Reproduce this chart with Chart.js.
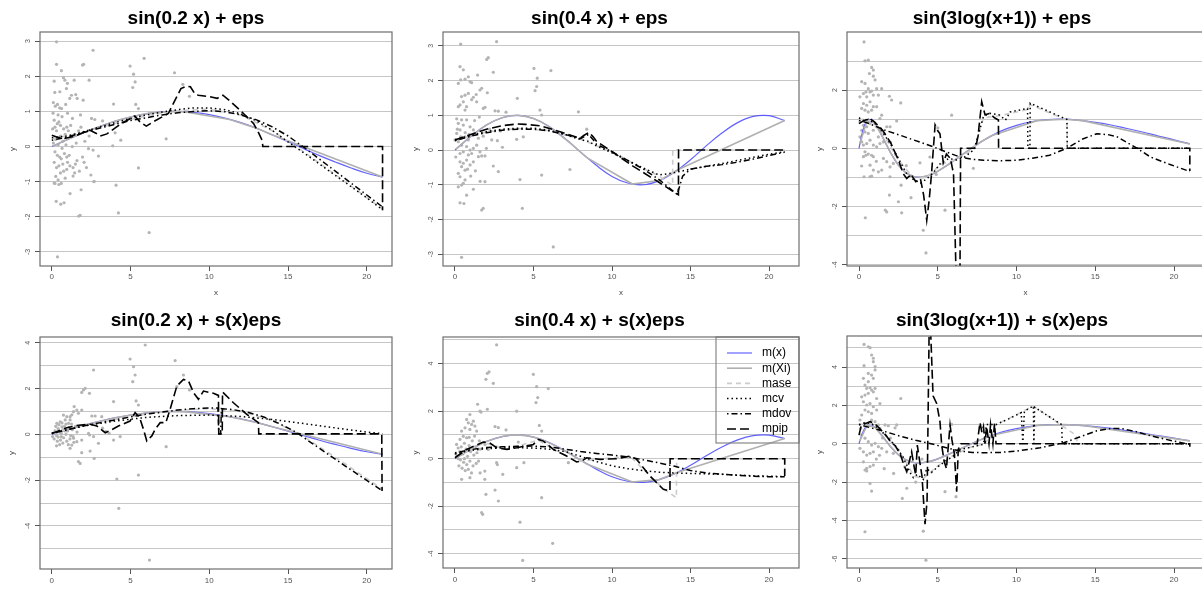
<!DOCTYPE html>
<html>
<head>
<meta charset="utf-8">
<script src="https://cdn.jsdelivr.net/npm/chart.js@4/dist/chart.umd.min.js"></script>
<style>
html, body { margin: 0; padding: 0; overflow: hidden; background: #fff; }
body { width: 1202px; height: 596px; position: relative; }
canvas { position: absolute; }
</style>
</head>
<body>
<canvas id="c1" width="432" height="297" style="left:0;top:0"></canvas>
<canvas id="c2" width="442" height="297" style="left:400px;top:0"></canvas>
<canvas id="c3" width="451" height="297" style="left:800px;top:0"></canvas>
<canvas id="c4" width="432" height="306" style="left:0;top:296px"></canvas>
<canvas id="c5" width="442" height="306" style="left:400px;top:296px"></canvas>
<canvas id="c6" width="451" height="306" style="left:800px;top:296px"></canvas>
<script>
// ---- data ----
const titles = ['sin(0.2 x) + eps', 'sin(0.4 x) + eps', 'sin(3log(x+1)) + eps',
                'sin(0.2 x) + s(x)eps', 'sin(0.4 x) + s(x)eps', 'sin(3log(x+1)) + s(x)eps'];
const seriesNames = ['m(x)', 'm(Xi)', 'mase', 'mcv', 'mdov', 'mpip'];
const xTicks = [0, 5, 10, 15, 20];

const yGrid1 = [-3, -2, -1, 0, 1, 2, 3],        yLabels1 = [-3, -2, -1, 0, 1, 2, 3];
const yGrid2 = [-3, -2, -1, 0, 1, 2, 3],        yLabels2 = [-3, -2, -1, 0, 1, 2, 3];
const yGrid3 = [-4, -3, -2, -1, 0, 1, 2, 3],    yLabels3 = [-4, -2, 0, 2];
const yGrid4 = [-5, -4, -3, -2, -1, 0, 1, 2, 3, 4], yLabels4 = [-4, -2, 0, 2, 4];
const yGrid5 = [-4, -3, -2, -1, 0, 1, 2, 3, 4, 5], yLabels5 = [-4, -2, 0, 2, 4];
const yGrid6 = [-6, -5, -4, -3, -2, -1, 0, 1, 2, 3, 4, 5], yLabels6 = [-6, -4, -2, 0, 2, 4];

// true curves m(x)
const mxA = [[0,0],[1,0.2],[2,0.39],[3,0.56],[4,0.72],[5,0.84],[6,0.93],[7,0.99],[8,1.0],[9,0.97],[10,0.91],[11,0.81],[12,0.68],[13,0.52],[14,0.33],[15,0.14],[16,-0.06],[17,-0.26],[18,-0.44],[19,-0.61],[20,-0.76],[21,-0.87]];
const mxB = [[0,0],[1,0.39],[2,0.72],[3,0.93],[4,1.0],[5,0.91],[6,0.68],[7,0.33],[8,-0.06],[9,-0.44],[10,-0.76],[11,-0.95],[12,-1.0],[13,-0.88],[14,-0.63],[15,-0.28],[16,0.12],[17,0.49],[18,0.79],[19,0.97],[20,0.99],[21,0.85]];
const mxC = [[0,0],[0.25,0.62],[0.5,0.94],[0.75,0.99],[1,0.87],[1.5,0.38],[2,-0.15],[2.5,-0.58],[3,-0.85],[3.5,-0.98],[4,-0.99],[4.5,-0.92],[5,-0.79],[6,-0.43],[7,-0.05],[8,0.3],[9,0.59],[10,0.79],[11,0.92],[12,0.99],[13,1.0],[14,0.96],[15,0.89],[16,0.8],[17,0.68],[18,0.56],[19,0.42],[20,0.29],[21,0.15]];

// m(Xi) at the sample points
const mxiA = [[0.05,0.01],[0.5,0.1],[1,0.2],[1.5,0.3],[2,0.39],[2.5,0.48],[3,0.56],[3.5,0.64],[4,0.72],[4.5,0.78],[5,0.84],[5.5,0.89],[6.2,0.95],[7.3,0.99],[7.8,1.0],[8.4,0.99],[11.3,0.77],[13,0.52],[14.2,0.3],[21,-0.87]];
const mxiB = [[0.05,0.02],[0.5,0.2],[1,0.39],[1.5,0.56],[2,0.72],[2.5,0.84],[3,0.93],[3.5,0.99],[4,1.0],[4.5,0.97],[5,0.91],[5.5,0.81],[6.2,0.61],[7.3,0.22],[7.8,0.02],[8.4,-0.22],[11.3,-0.98],[13,-0.88],[14.2,-0.57],[21,0.85]];
const mxiC = [[0.05,0.15],[0.5,0.94],[1,0.87],[1.5,0.38],[2,-0.15],[2.5,-0.58],[3,-0.85],[3.5,-0.98],[4,-0.99],[4.5,-0.92],[5,-0.79],[5.5,-0.62],[6.2,-0.36],[7.3,0.06],[7.8,0.24],[8.4,0.43],[11.3,0.95],[13,1.0],[14.2,0.95],[21,0.15]];

// panel 1
const pts1 = [[0.3,2.98],[2.62,2.74],[0.3,2.34],[1.95,2.32],[2.02,2.34],[0.61,2.16],[0.74,1.96],[0.83,1.89],[0.15,1.86],[0.99,1.8],[1.42,1.89],[2.37,1.89],[0.51,1.56],[0.19,1.54],[0.93,1.65],[1.25,1.46],[1.52,1.48],[1.61,1.37],[1.99,1.32],[1.14,1.37],[4.97,2.29],[5.19,2.06],[5.29,1.84],[5.14,1.68],[5.86,2.51],[7.79,2.1],[8.32,1.77],[8.74,1.43],[3.92,1.21],[5.33,1.2],[5.5,1.08],[3.22,0.73],[4.02,0.39],[4.38,0.18],[3.87,0.02],[2.33,-0.06],[2.96,-0.27],[2.69,-0.99],[2.48,-0.81],[4.08,-1.1],[5.5,-0.61],[7.26,0.22],[1.86,-1.23],[1.71,-1.98],[1.8,-1.96],[4.23,-1.89],[6.18,-2.45],[0.36,-3.14],[0.28,-1.56],[0.57,-1.64],[0.78,-1.6],[1.16,-1.34],[0.15,-1.04],[1.82,0.9],[1.31,0.8],[2.52,0.8],[2.73,0.77],[2.37,0.3],[2.62,-0.1],[1.35,-0.84],[2.67,-1.0],
  [0.1,1.25],[0.22,1.15],[0.5,1.1],[0.36,1.2],[0.62,1.08],[0.08,0.95],[0.15,0.75],[0.4,0.9],[0.2,0.55],[0.05,0.5],[0.3,0.45],[0.45,0.7],[0.55,0.6],[0.55,0.3],[0.25,0.2],[0.1,0.1],[0.4,0.05],[0.7,0.15],[0.85,0.35],[0.95,0.55],[1.05,0.45],[1.2,0.6],[1.25,0.3],[1.45,0.35],[1.55,0.1],[0.75,0.5],[0.65,-0.05],[0.2,-0.15],[0.35,-0.25],[0.5,-0.3],[0.15,-0.45],[0.6,-0.35],[0.8,-0.2],[0.95,-0.3],[1.1,-0.25],[1.0,-0.45],[0.7,-0.5],[0.45,-0.55],[0.3,-0.6],[0.55,-0.75],[0.75,-0.7],[0.95,-0.65],[1.15,-0.55],[1.35,-0.6],[1.5,-0.5],[1.6,-0.4],[0.25,-0.85],[0.4,-0.95],[0.6,-1.05],[0.2,-1.05],[0.45,-1.08],[0.85,-0.9],[1.45,-0.75],[1.75,-0.7],[0.9,0.05],[1.3,0.0],[1.7,0.45],[1.85,0.55],[2.1,0.15],[2.05,-0.45],[2.2,-0.6],[1.95,-0.3],[0.35,0.65],[0.65,0.85],[1.0,0.95],[0.88,1.2]];
const mase1 = [[0,0.22],[2,0.4],[4,0.66],[6,0.88],[8,1.02],[10,1.06],[12,0.9],[14,0.45],[16,-0.15],[18,-0.8],[21,-1.78]];
const mcv1 = [[0,0.25],[1,0.3],[2,0.42],[3,0.55],[4,0.68],[5,0.8],[6,0.9],[7,0.98],[8,1.05],[9,1.1],[10,1.1],[11,1.05],[12,0.93],[13,0.73],[14,0.46],[15,0.13],[16,-0.18],[17,-0.5],[18,-0.82],[19,-1.14],[20,-1.46],[21,-1.8]];
const mdov1 = [[0,0.18],[1,0.27],[2,0.4],[3,0.52],[4,0.63],[5,0.74],[6,0.82],[7,0.9],[8,0.96],[9,1.0],[10,1.02],[11,0.99],[12,0.9],[13,0.76],[14,0.56],[15,0.3],[16,-0.02],[17,-0.36],[18,-0.7],[19,-1.04],[20,-1.38],[21,-1.72]];
const mpip1 = [[0,0.32],[0.4,0.26],[0.8,0.23],[1.5,0.3],[2.4,0.47],[2.8,0.38],[3.06,0.3],[3.5,0.36],[4.3,0.62],[5.27,0.87],[5.6,0.7],[6.0,0.58],[6.5,0.72],[7.4,0.94],[7.8,1.3],[8.2,1.65],[8.55,1.72],[8.8,1.7],[9.08,1.5],[9.3,1.46],[10.0,1.42],[10.5,1.37],[10.86,1.46],[11.3,1.3],[11.96,1.03],[12.8,0.66],[13.1,0.42],[13.35,0.18],[13.4,0],[21,0],[21,-1.81]];

// panel 2
const pts2 = [[0.36,3.05],[2.65,3.12],[2.02,2.61],[2.12,2.66],[0.32,2.4],[0.53,2.31],[0.36,2.02],[0.21,1.92],[0.85,2.11],[0.96,1.97],[1.06,1.94],[0.64,2.04],[1.44,2.16],[2.44,2.24],[1.7,1.78],[1.59,1.73],[1.35,1.6],[1.17,1.52],[1.06,1.45],[1.38,1.39],[0.85,1.63],[0.64,1.58],[0.42,1.54],[0.53,1.39],[0.32,1.3],[0.21,1.25],[0.74,1.25],[0.64,1.15],[1.8,1.2],[1.91,1.23],[2.06,1.65],[2.55,1.13],[2.76,1.12],[3.25,1.09],[3.97,1.49],[5.03,2.35],[5.24,2.07],[5.2,1.83],[5.1,1.71],[6.11,2.29],[5.41,1.15],[5.52,1.01],[7.86,1.1],[8.39,0.6],
  [0.11,0.9],[0.21,0.77],[0.32,0.58],[0.42,0.87],[0.53,0.72],[0.74,0.87],[0.96,0.67],[0.11,0.48],[0.36,0.38],[0.0,0.29],[0.21,0.24],[0.64,0.38],[0.85,0.29],[1.17,0.58],[1.38,0.48],[1.49,0.34],[2.34,0.29],[2.7,0.27],[3.02,0.08],[3.93,0.31],[4.35,0.38],
  [0.42,0.14],[0.74,0.1],[0.96,0.0],[1.17,0.05],[1.38,0.14],[0.53,-0.05],[0.32,-0.1],[0.85,-0.14],[1.06,-0.1],[1.59,-0.05],[1.49,-0.19],[1.7,-0.17],[1.91,-0.17],[0.32,-0.34],[0.53,-0.38],[0.74,-0.29],[0.42,-0.48],[0.96,-0.43],[1.17,-0.34],[0.64,-0.58],[0.21,-0.67],[0.32,-0.77],
  [2.44,-0.46],[2.76,-0.62],[5.52,-0.72],[4.14,-0.85],[7.32,-0.56],[0.53,-0.96],[0.42,-1.01],[0.21,-1.06],[0.64,-0.86],[1.91,-0.91],[1.17,-1.13],[0.74,-1.3],[0.32,-1.52],[0.57,-1.54],[1.7,-1.73],[1.8,-1.68],[4.29,-1.68],[6.26,-2.79],[0.42,-3.09],
  [0.15,0.6],[0.65,0.5],[0.9,0.45],[1.25,0.85],[1.55,0.95],[0.05,-0.2],[1.3,-0.6],[1.6,-0.9],[1.0,-0.75],[0.8,-0.55],[2.2,0.6],[2.9,0.55],[1.8,0.4],[2.0,0.05]];
const mase2 = [[0,0.28],[2,0.52],[4,0.62],[6,0.56],[8,0.31],[10,-0.06],[12,-0.53],[13,-0.75],[13.86,-1.02],[13.87,0],[21,0]];
const mcv2 = [[0,0.3],[1,0.42],[2,0.53],[3,0.6],[4,0.63],[5,0.63],[6,0.57],[7,0.45],[8,0.3],[8.5,0.25],[9,0.12],[10,-0.08],[11,-0.3],[12,-0.52],[13,-0.72],[14,-0.65],[15,-0.55],[16,-0.47],[17,-0.39],[18,-0.3],[19,-0.21],[20,-0.12],[21,-0.05]];
const mdov2 = [[0,0.27],[1,0.4],[2,0.5],[3,0.57],[4,0.6],[5,0.6],[6,0.55],[7,0.45],[8,0.33],[8.5,0.45],[8.8,0.3],[9,0.17],[10,-0.05],[11,-0.3],[12,-0.55],[13,-0.85],[14.15,-1.28],[14.5,-0.75],[15,-0.55],[16,-0.47],[17,-0.42],[18,-0.35],[19,-0.26],[20,-0.16],[21,-0.06]];
const mpip2 = [[0,0.29],[1,0.45],[2,0.6],[3,0.7],[3.93,0.75],[4.5,0.74],[5.41,0.7],[6.69,0.53],[7.96,0.34],[8.2,0.42],[8.54,0.51],[8.8,0.38],[9.02,0.25],[10.08,-0.07],[11.36,-0.47],[13.06,-0.95],[14.23,-1.29],[14.24,0],[21,0]];

// panel 3
const pts3 = [[0.32,3.66],[0.38,3.01],[0.59,3.03],[0.8,2.78],[0.91,2.69],[0.66,2.57],[0.91,2.48],[1.02,2.35],[0.17,2.29],[0.38,2.23],[0.59,2.05],[0.7,1.94],[0.44,1.94],[0.8,1.97],[1.12,2.05],[1.44,2.05],[0.28,1.88],[0.06,1.77],[0.49,1.77],[0.91,1.83],[1.23,1.83],[1.93,1.79],[2.07,1.66],[2.65,1.56],[0.28,1.54],[0.49,1.48],[0.7,1.6],[0.91,1.43],[0.38,1.31],[0.59,1.25],[0.8,1.31],[0.17,1.37],[1.12,1.43],[1.44,1.14],[1.33,1.02],[2.39,0.94],[1.76,0.74],[1.97,0.74],
  [0.06,0.91],[0.28,0.79],[0.49,0.74],[0.7,0.85],[0.17,0.62],[0.38,0.56],[0.59,0.51],[0.91,0.62],[1.12,0.74],[1.33,0.68],[0.06,0.39],[0.17,0.22],[0.28,0.11],[0.49,0.16],[0.7,0.28],[0.91,0.11],[1.12,0.05],[1.33,0.16],[1.55,0.22],[1.23,0.39],[0.38,-0.12],[0.44,-0.24],[0.59,-0.2],[0.8,-0.24],[0.91,-0.29],[0.28,-0.29],
  [5.88,1.14],[1.55,-0.35],[1.76,-0.46],[1.97,-0.64],[2.18,-0.52],[0.17,-0.61],[0.7,-0.58],[0.91,-0.75],[1.23,-0.81],[1.44,-0.75],[0.32,-0.98],[0.7,-0.98],[0.8,-0.96],[1.97,-0.98],[3.87,-0.5],[2.67,-1.27],[1.93,-1.61],[1.67,-2.13],[1.76,-2.19],[2.71,-2.22],[2.5,-1.84],[0.4,-2.39],[4.08,-2.82],[4.25,-3.6],[5.46,-2.13],[7.26,-0.69],[3.3,-1.7],[4.9,-0.9],[2.3,-0.2],[3.0,-0.6],[4.5,-0.3],[5.0,0.7],[1.6,0.5],[2.0,0.2],[1.1,-0.45]];
const mase3 = [[0,1.0],[0.6,0.98],[1.5,0.52],[2.5,-0.4],[3.5,-1.05],[4.3,-1.0],[5.2,-0.55],[6.2,-0.38],[7.3,-0.02],[7.9,1.05],[8.9,1.12],[9.6,1.2],[10.7,1.33],[10.87,1.5],[13.2,0.97],[13.22,0],[21,0]];
const mcv3 = [[0,1.05],[0.3,0.95],[0.6,1.0],[1.0,0.85],[1.5,0.55],[2.0,0.15],[2.5,-0.35],[3.0,-0.85],[3.4,-1.05],[3.9,-1.2],[4.3,-1.05],[4.7,-0.85],[5.2,-0.5],[5.7,-0.35],[6.2,-0.4],[6.7,-0.3],[7.3,-0.05],[7.6,0.5],[7.9,1.1],[8.3,1.2],[8.9,1.15],[9.3,0.97],[9.6,1.25],[10.7,1.37],[10.72,0],[10.85,0],[10.87,1.55],[13.2,0.99],[13.22,0],[21,0]];
const mdov3 = [[0,0.96],[0.5,0.88],[1,0.77],[1.55,0.64],[2.6,0.45],[3.5,0.28],[4.72,0.05],[5.5,-0.12],[6.41,-0.3],[7.2,-0.38],[7.9,-0.41],[9,-0.43],[10,-0.41],[11,-0.34],[12.1,-0.24],[13.2,0.0],[14.2,0.32],[15.1,0.5],[15.8,0.47],[16.4,0.39],[17.5,0.05],[18.5,-0.3],[19.7,-0.55],[21,-0.8]];
const mpip3 = [[0,0.85],[0.3,0.95],[0.7,1.02],[1.0,0.9],[1.5,0.62],[2.0,0.2],[2.5,-0.4],[2.8,-0.87],[3.03,-1.04],[3.3,-0.9],[3.6,-1.15],[3.9,-1.05],[4.1,-1.6],[4.3,-2.48],[4.45,-1.8],[4.6,-0.9],[4.83,0.8],[5.0,0.6],[5.14,0.5],[5.35,-0.5],[5.55,-0.2],[5.8,-0.35],[6.0,-0.87],[6.16,-4.3],[6.41,-4.3],[6.45,0],[7.4,0],[7.55,0.4],[7.79,1.6],[8.0,1.15],[8.3,1.2],[8.6,1.05],[8.85,0.97],[8.86,0],[21,0],[21,-0.78]];

// panel 4
const pts4 = [[5.93,3.9],[4.97,3.29],[5.19,2.95],[5.29,2.59],[5.14,2.3],[7.83,3.22],[2.65,2.81],[2.01,1.94],[2.12,2.01],[1.9,1.83],[2.39,1.79],[3.92,1.43],[5.35,1.46],[5.5,1.28],[8.36,2.59],[8.74,1.94],[7.94,2.08],[1.42,1.21],[1.59,1.06],[1.69,0.92],[1.38,0.99],[1.9,1.06],[1.27,0.85],[1.16,0.77],[2.54,0.8],[2.75,0.8],[3.17,0.77],[0.74,0.84],[0.95,0.77],[0.85,0.63],[0.53,0.55],[0.32,0.48],[1.16,0.63],[1.06,0.48],[0.64,0.33],
  [0.1,0.05],[0.2,0.15],[0.3,-0.05],[0.4,0.25],[0.5,0.1],[0.6,-0.1],[0.7,0.2],[0.8,0.35],[0.9,0.0],[1.0,0.15],[1.1,0.3],[1.2,-0.05],[0.15,-0.2],[0.35,-0.3],[0.55,-0.25],[0.75,-0.15],[0.95,-0.3],[1.15,-0.2],[1.35,-0.1],[0.25,0.35],[0.45,0.42],[0.65,0.5],[0.85,0.15],[1.05,-0.45],[0.5,-0.45],[0.3,-0.5],[0.7,-0.38],[1.3,0.2],[1.5,0.35],[1.6,0.1],[0.05,-0.1],[0.2,0.05],[0.6,0.05],[0.4,-0.12],[0.9,0.45],[1.4,-0.35],[1.25,0.45],
  [3.22,0.27],[3.43,0.12],[3.64,0.04],[3.92,-0.25],[4.34,-0.1],[2.65,-0.1],[2.96,-0.39],[2.33,0.04],[2.4,-0.03],[1.38,-0.17],[1.59,-0.32],[1.27,-0.47],[1.9,-0.25],[1.16,-0.61],[1.9,-0.8],[2.43,-0.73],[2.69,-1.05],[1.69,-1.19],[1.8,-1.27],[7.26,-0.54],[4.13,-1.95],[5.5,-1.78],[4.25,-3.23],[6.2,-5.49]];
const mase4 = [[0,0.05],[2,0.38],[4,0.65],[6,0.88],[8,1.05],[10,1.12],[12,1.0],[14,0.6],[16,-0.1],[18,-1.0],[21,-2.4]];
const mcv4 = [[0,0.05],[2,0.36],[4,0.58],[6,0.74],[8,0.82],[10,0.84],[12,0.78],[14,0.65],[16,0.47],[18,0.28],[20,0.1],[21,0.03]];
const mdov4 = [[0,0.05],[1,0.2],[2,0.36],[3,0.5],[4,0.63],[5,0.76],[6,0.88],[7,0.97],[8,1.06],[9,1.12],[10,1.15],[10.55,1.15],[10.6,0.03],[10.72,0.03],[10.77,1.12],[11.5,1.08],[12.5,0.95],[13.5,0.75],[14.5,0.45],[15.5,0.1],[16.5,-0.38],[17.5,-0.85],[18.5,-1.32],[19.5,-1.78],[21,-2.47]];
const mpip4 = [[0,0.04],[0.95,0.29],[1.7,0.4],[2.43,0.44],[2.86,0.36],[3.39,0.07],[3.8,0.2],[4.23,0.36],[4.97,0.58],[5.29,0.95],[5.57,0.73],[5.82,0.22],[6.03,-0.29],[6.35,-0.07],[6.56,0.22],[6.88,0.51],[7.24,0.51],[7.51,1.09],[7.94,2.11],[8.36,2.4],[8.68,2.33],[9.0,1.82],[9.31,1.53],[9.63,1.89],[10.26,1.79],[10.58,1.7],[10.6,0.02],[10.82,0.02],[10.84,1.85],[11.53,1.38],[12.38,0.87],[13.12,0.51],[13.14,0.02],[20.95,0.02],[20.97,-2.47]];

// panel 5
const pts5 = [[2.65,4.79],[4.99,3.55],[2.06,3.59],[2.17,3.65],[1.97,3.34],[2.44,3.17],[5.2,3.03],[5.94,2.95],[5.27,2.57],[5.16,2.36],[1.44,2.29],[1.59,2.0],[1.66,1.96],[2.06,2.08],[3.93,2.0],[3.25,1.21],[5.37,1.4],[5.52,1.16],[2.55,1.35],[2.76,1.31],
  [0.95,1.86],[1.17,1.58],[0.85,1.51],[1.06,1.44],[1.27,1.37],[0.74,1.65],[0.64,1.3],[0.95,1.23],[1.38,1.16],[0.42,1.16],[0.53,0.94],[0.32,0.81],[0.74,0.88],
  [0.1,0.6],[0.2,0.45],[0.3,0.3],[0.4,0.5],[0.5,0.2],[0.6,0.65],[0.7,0.4],[0.8,0.1],[0.9,0.55],[1.0,0.3],[1.1,0.75],[1.2,0.15],[1.3,0.5],[1.4,0.25],[0.15,0.1],[0.35,-0.05],[0.55,-0.15],[0.75,-0.25],[0.95,-0.1],[1.15,-0.3],[1.35,-0.2],[0.25,-0.3],[0.45,-0.4],[0.65,-0.5],[0.85,-0.45],[1.05,-0.6],[1.5,-0.1],[1.6,0.4],[0.05,0.2],[0.2,0.0],[0.6,0.0],[0.9,0.9],[1.25,0.95],[1.55,0.75],
  [4.03,0.7],[1.91,0.6],[2.12,0.39],[3.04,-0.66],[2.65,-0.17],[2.7,-0.25],[3.93,-0.38],[4.39,-0.17],[7.22,-0.17],[1.6,-0.6],[1.9,-0.52],[1.9,-0.87],[0.42,-0.87],[0.95,-0.8],[1.97,-1.5],[1.7,-2.27],[1.76,-2.34],[2.55,-1.32],[2.76,-1.78],[5.52,-1.64],[4.14,-2.67],[6.22,-3.56],[4.31,-4.28]];
const mase5 = [[0,0.04],[1.8,0.68],[3.3,0.4],[5.3,0.78],[6.3,0.4],[7.75,-0.12],[9.2,-0.02],[11.15,0.1],[12.4,-0.72],[13.3,-1.28],[14.1,-1.64],[14.12,0],[21,0],[21,-0.73]];
const mcv5 = [[0,0.2],[1,0.35],[2,0.42],[3,0.45],[4,0.46],[5,0.45],[6,0.4],[7,0.3],[8,0.1],[9,-0.12],[10,-0.3],[11,-0.42],[12,-0.5],[13,-0.57],[14,-0.6],[15,-0.62],[16,-0.64],[17,-0.66],[18,-0.69],[19,-0.72],[20,-0.74],[21,-0.75]];
const mdov5 = [[0,0.25],[1,0.38],[2,0.47],[3,0.5],[4,0.52],[5,0.53],[6,0.5],[7,0.4],[8,0.3],[9,0.22],[10,0.15],[11,0.08],[12,-0.05],[13,-0.18],[14,-0.32],[15,-0.5],[16,-0.6],[17,-0.65],[18,-0.7],[19,-0.74],[20,-0.76],[21,-0.76]];
const mpip5 = [[0,0.04],[0.74,0.39],[1.8,0.7],[2.2,0.67],[2.65,0.46],[3.29,0.39],[3.93,0.46],[4.99,0.6],[5.31,0.81],[5.63,0.74],[6.26,0.39],[7.11,0.11],[7.75,-0.14],[8.07,-0.1],[8.39,0.04],[9.24,-0.03],[10.3,0],[11.15,0.11],[11.57,-0.03],[12.42,-0.73],[13.27,-1.29],[13.69,-1.36],[13.7,0],[21,0],[21,-0.73]];

// panel 6
const pts6 = [[0.32,5.18],[0.59,5.06],[0.7,5.01],[0.8,4.63],[0.91,4.46],[0.91,4.28],[1.02,4.02],[0.32,4.07],[0.59,3.67],[0.8,3.58],[0.91,3.41],[1.02,3.85],[0.28,3.41],[0.59,3.24],[0.38,3.06],[0.49,2.89],[0.7,2.92],[0.8,2.8],[0.91,2.71],[1.02,2.89],[0.59,2.63],[0.38,2.54],[0.17,2.45],[1.12,2.36],[1.33,2.1],[2.65,2.36],[0.28,2.19],[0.49,2.02],[0.7,2.1],[0.91,1.93],[0.38,1.76],[0.59,1.67],[0.17,1.5],[0.8,1.58],[1.12,1.76],
  [0.06,1.24],[0.38,1.06],[0.59,0.98],[0.8,1.24],[1.02,1.15],[1.23,0.98],[1.33,0.8],[1.65,0.98],[1.86,0.94],[2.29,0.83],[2.39,0.98],[0.17,0.46],[0.38,0.29],[0.59,0.11],[0.8,-0.07],[1.02,0.02],[1.23,-0.15],[1.44,-0.24],[1.76,-0.42],[0.06,-0.24],[0.28,-0.42],[0.49,-0.59],[0.7,-0.5],[0.91,-0.42],
  [2.18,-0.5],[2.5,-0.33],[0.28,-0.94],[0.49,-1.28],[0.7,-1.19],[0.91,-1.11],[0.38,-1.37],[0.49,-1.42],[0.7,-2.07],[0.8,-2.47],[3.03,-2.32],[2.75,-2.85],[5.88,1.01],[6.16,-2.76],[0.38,-4.59],[4.08,-4.56],[4.25,-6.07],[5.46,-2.5],[1.3,-0.6],[1.5,0.3],[2.0,0.3],[0.1,0.8],[1.1,-0.8],[1.6,-1.3],[2.2,-1.55],[3.6,-2.0],[2.9,-1.2],[4.0,-0.8]];
const mase6 = [[0,1.0],[0.8,1.05],[1.8,0.35],[2.8,-0.7],[3.5,-1.7],[4.1,-1.8],[5.0,-1.15],[6.0,-0.6],[7.0,-0.2],[8.0,0.0],[8.7,1.0],[10.2,1.6],[11.07,1.97],[13.8,0.43],[13.85,0],[21,0]];
const mcv6 = [[0,1.0],[0.4,1.1],[0.8,1.05],[1.3,0.75],[1.8,0.35],[2.3,-0.1],[2.8,-0.7],[3.24,-1.5],[3.45,-1.77],[3.7,-1.6],[4.08,-1.86],[4.3,-1.3],[4.6,-1.5],[5.0,-1.2],[5.5,-0.9],[5.99,-0.64],[6.41,-0.3],[7.0,-0.2],[7.9,-0.03],[8.1,1.0],[8.7,1.0],[9.5,1.3],[10.3,1.62],[10.4,0],[10.5,1.7],[11.07,1.97],[11.1,0],[11.15,1.9],[12.87,1.0],[12.9,0],[21,0]];
const mdov6 = [[0,1.0],[0.8,0.82],[1.55,0.66],[2.6,0.4],[3.6,0.18],[4.72,-0.03],[5.6,-0.22],[6.41,-0.38],[7.2,-0.45],[7.9,-0.47],[9,-0.45],[10,-0.38],[11.5,-0.21],[13,0.05],[14,0.35],[15.1,0.68],[16.0,0.8],[16.6,0.8],[17.5,0.65],[18.5,0.42],[19.8,0.17],[21,-0.03],[21,-0.16]];
const mpip6 = [[0,0.45],[0.15,0.98],[0.4,1.05],[0.7,1.15],[1.0,1.05],[1.3,0.8],[1.7,0.45],[2.0,0.1],[2.3,-0.1],[2.6,-0.5],[2.85,-1.1],[3.03,-1.46],[3.2,-0.9],[3.34,-0.42],[3.5,-1.2],[3.6,-1.63],[3.7,-0.07],[3.85,-0.9],[4.0,-1.7],[4.19,-4.2],[4.32,-3.0],[4.45,5.8],[4.55,5.8],[4.7,2.5],[4.93,2.1],[5.14,1.15],[5.25,-0.07],[5.4,-0.9],[5.55,-1.3],[5.65,-0.3],[5.78,0.98],[5.9,0.2],[6.05,-0.5],[6.2,-2.5],[6.3,-0.3],[6.45,0],[7.5,0],[7.68,1.11],[7.8,0.6],[7.9,0.9],[8.0,0.0],[8.1,0.9],[8.25,0.0],[8.35,1.0],[8.5,0.0],[8.6,1.05],[8.7,0.0],[21,0],[21,-0.16]];

// ---- layout of the six panels (page geometry only) ----
const panels = [
  {id: 'c1', title: titles[0], pts: pts1, mx: mxA, mxi: mxiA, mase: mase1, mcv: mcv1, mdov: mdov1, mpip: mpip1,
   x: [-0.75, 21.6], y: [-3.40, 3.26], grid: yGrid1, labs: yLabels1, yw: 40, padR: 40, tTop: 6.9, tBot: 2.3, xh: 31, xPad: 1, yt: 8.7},
  {id: 'c2', title: titles[1], pts: pts2, mx: mxB, mxi: mxiB, mase: mase2, mcv: mcv2, mdov: mdov2, mpip: mpip2,
   x: [-0.764, 21.91], y: [-3.34, 3.40], grid: yGrid2, labs: yLabels2, yw: 43, padR: 43, tTop: 6.9, tBot: 2.3, xh: 31, xPad: 1, yt: 12},
  {id: 'c3', title: titles[2], pts: pts3, mx: mxC, mxi: mxiC, mase: mase3, mcv: mcv3, mdov: mdov3, mpip: mpip3,
   x: [-0.762, 21.9], y: [-4.05, 4.0], grid: yGrid3, labs: yLabels3, yw: 47, padR: 47, tTop: 6.9, tBot: 2.3, xh: 31, xPad: 1, yt: 16},
  {id: 'c4', title: titles[3], pts: pts4, mx: mxA, mxi: mxiA, mase: mase4, mcv: mcv4, mdov: mdov4, mpip: mpip4,
   x: [-0.75, 21.6], y: [-5.88, 4.25], grid: yGrid4, labs: yLabels4, yw: 40, padR: 40, tTop: 13.6, tBot: 4.6, xh: 33, xPad: 2, yt: 7.7},
  {id: 'c5', title: titles[4], pts: pts5, mx: mxB, mxi: mxiB, mase: mase5, mcv: mcv5, mdov: mdov5, mpip: mpip5,
   x: [-0.764, 21.91], y: [-4.6, 5.12], grid: yGrid5, labs: yLabels5, yw: 43, padR: 43, tTop: 13.6, tBot: 4.6, xh: 34, xPad: 2, yt: 12, legend: true},
  {id: 'c6', title: titles[5], pts: pts6, mx: mxC, mxi: mxiC, mase: mase6, mcv: mcv6, mdov: mdov6, mpip: mpip6,
   x: [-0.762, 21.9], y: [-6.48, 5.62], grid: yGrid6, labs: yLabels6, yw: 47, padR: 47, tTop: 13.6, tBot: 3.6, xh: 34, xPad: 2, yt: 16}
];

Chart.defaults.font.family = '"Liberation Sans", Arial, Helvetica, sans-serif';

const styles = [
  {color: 'rgba(70,70,255,0.85)', width: 1.2, dash: [], tension: 0.4},
  {color: '#b0b0b0', width: 1.6, dash: [], tension: 0},
  {color: '#cccccc', width: 1.6, dash: [5, 4], tension: 0},
  {color: '#000', width: 1.5, dash: [1.5, 3], tension: 0},
  {color: '#000', width: 1.5, dash: [1.5, 3, 6, 3], tension: 0},
  {color: '#000', width: 1.6, dash: [9, 4], tension: 0}
];

const toXY = arr => arr.map(p => ({x: p[0], y: p[1]}));

// box around the plot region
const frame = {
  id: 'frame',
  afterDraw(chart) {
    const {ctx, chartArea: a} = chart;
    ctx.save();
    ctx.strokeStyle = '#6e6e6e';
    ctx.lineWidth = 1.2;
    ctx.strokeRect(a.left, a.top, a.right - a.left, a.bottom - a.top);
    ctx.restore();
  }
};

// R style legend box in the top right corner
const legendBox = {
  id: 'legendBox',
  afterDatasetsDraw(chart, args, opts) {
    if (!opts.show) return;
    const {ctx, chartArea: a} = chart;
    const w = 83, h = 106, x0 = a.right - w, y0 = a.top;
    ctx.save();
    ctx.strokeStyle = '#888';
    ctx.lineWidth = 1.2;
    ctx.strokeRect(x0, y0, w, h);
    ctx.font = '12px "Liberation Sans", Arial, sans-serif';
    ctx.textBaseline = 'middle';
    chart.data.datasets.filter(d => d.type === 'line').forEach((d, i) => {
      const y = y0 + 16 + i * 15.2;
      ctx.strokeStyle = d.borderColor;
      ctx.lineWidth = d.borderWidth;
      ctx.setLineDash(d.borderDash);
      ctx.beginPath();
      ctx.moveTo(x0 + 11, y);
      ctx.lineTo(x0 + 36, y);
      ctx.stroke();
      ctx.setLineDash([]);
      ctx.fillStyle = '#000';
      ctx.fillText(d.label, x0 + 46, y);
    });
    ctx.restore();
  }
};

function drawPanel(p) {
  const lines = [p.mx, p.mxi, p.mase, p.mcv, p.mdov, p.mpip];
  const datasets = lines.map((arr, i) => ({
    type: 'line',
    label: seriesNames[i],
    data: toXY(arr),
    borderColor: styles[i].color,
    borderWidth: styles[i].width,
    borderDash: styles[i].dash,
    tension: styles[i].tension,
    pointRadius: 0,
    fill: false,
    order: 6 - i
  }));
  datasets.push({
    type: 'scatter',
    label: 'data',
    data: toXY(p.pts),
    pointRadius: 1.6,
    pointBackgroundColor: '#b4b4b4',
    pointBorderWidth: 0,
    order: 10
  });

  new Chart(document.getElementById(p.id), {
    type: 'scatter',
    data: {datasets: datasets},
    options: {
      responsive: false,
      animation: false,
      events: [],
      layout: {padding: {left: 0, right: p.padR, top: 0, bottom: 0}},
      plugins: {
        legend: {display: false},
        tooltip: {enabled: false},
        title: {display: true, text: p.title, color: '#000',
                font: {size: 19, weight: 'bold'}, padding: {top: p.tTop, bottom: p.tBot}},
        legendBox: {show: !!p.legend}
      },
      scales: {
        x: {
          type: 'linear', min: p.x[0], max: p.x[1],
          afterBuildTicks: s => { s.ticks = xTicks.map(v => ({value: v})); },
          afterFit: s => { s.height = p.xh; },
          grid: {drawOnChartArea: false, tickLength: 5, tickColor: '#555'},
          border: {display: false},
          ticks: {autoSkip: false, maxRotation: 0, padding: p.xPad, color: '#555',
                  font: {size: 8}, callback: v => String(v)},
          title: {display: true, text: 'x', color: '#444', font: {size: 8, lineHeight: 1}, padding: 0}
        },
        y: {
          type: 'linear', min: p.y[0], max: p.y[1],
          afterBuildTicks: s => { s.ticks = p.grid.map(v => ({value: v})); },
          afterFit: s => { s.width = p.yw; },
          grid: {color: '#c6c6c6', lineWidth: 1, tickLength: 5,
                 tickColor: c => p.labs.includes(c.tick.value) ? '#555' : 'rgba(0,0,0,0)'},
          border: {display: false},
          ticks: {autoSkip: false, minRotation: 90, maxRotation: 90, crossAlign: 'center',
                  padding: 4, color: '#555', font: {size: 7},
                  callback: v => p.labs.includes(v) ? String(v) : ''},
          title: {display: true, text: 'y', color: '#444', font: {size: 8, lineHeight: 1},
                  padding: {top: p.yt, bottom: 0}}
        }
      }
    },
    plugins: [frame, legendBox]
  });
}

panels.forEach(drawPanel);
</script>
</body>
</html>
